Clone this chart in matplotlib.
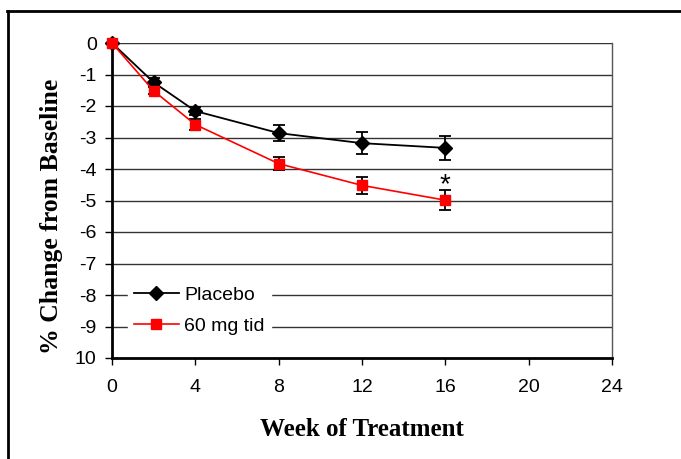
import matplotlib
matplotlib.use("Agg")
import matplotlib.pyplot as plt
from matplotlib.lines import Line2D

weeks = [0, 2, 4, 8, 12, 16]
placebo = [0, -1.25, -2.16, -2.86, -3.18, -3.33]
placebo_err = [0, 0.13, 0.14, 0.26, 0.34, 0.39]
drug = [0, -1.52, -2.59, -3.83, -4.52, -4.99]
drug_err = [0, 0.11, 0.18, 0.21, 0.27, 0.32]
xticks = [0, 4, 8, 12, 16, 20, 24]
yticks = [0, -1, -2, -3, -4, -5, -6, -7, -8, -9, -10]
ytick_labels = ["0", "-1", "-2", "-3", "-4", "-5", "-6", "-7", "-8", "-9", "10"]

W, H = 681, 459
fig = plt.figure(figsize=(W / 100, H / 100), dpi=100)

# outer frame
fig.add_artist(Line2D([7.5 / W, 7.5 / W], [0, 1 - 11 / H], color="black", lw=2, transform=fig.transFigure))
fig.add_artist(Line2D([7 / W, 1], [1 - 11 / H, 1 - 11 / H], color="black", lw=2, transform=fig.transFigure))

ax = fig.add_axes([112 / W, 1 - 358 / H, (612 - 112) / W, (358 - 43) / H])

for y in yticks[:-1]:
    ax.axhline(y, color="#333333", lw=1.0, zorder=0)

ax.errorbar(weeks, placebo, yerr=placebo_err, color="black", marker="D", ms=7,
            lw=1.3, capsize=4.5, elinewidth=1.3, capthick=1.3, zorder=3, clip_on=False)
ax.errorbar(weeks, drug, yerr=drug_err, color="red", marker="s", ms=7, mec="red",
            ecolor="black", lw=1.2, capsize=4.5, elinewidth=1.3, capthick=1.3,
            zorder=4, clip_on=False)

ax.text(16, -4.52, "*", ha="center", va="center", fontsize=20, family="Liberation Sans")

ax.set_xlim(0, 24)
ax.set_ylim(-10, 0)
ax.set_xticks(xticks)
ax.set_yticks(yticks)
ax.set_yticklabels(ytick_labels)
ax.tick_params(axis="both", direction="out", length=5, width=1, labelsize=14, pad=6)
for lab in ax.get_xticklabels() + ax.get_yticklabels():
    lab.set_family("Liberation Sans")
ax.tick_params(axis="x", pad=10)

ax.spines["left"].set_linewidth(2)
ax.spines["bottom"].set_linewidth(2)
ax.spines["top"].set_visible(False)
ax.spines["right"].set_color("#555555")
ax.spines["right"].set_linewidth(1)

ax.set_xlabel("Week of Treatment", fontsize=18, fontweight="bold", family="Liberation Serif", labelpad=16)
ax.set_ylabel("% Change from Baseline", fontsize=18.5, fontweight="bold", family="Liberation Serif")
ax.yaxis.set_label_coords(-0.098, 0.45)

handles = [
    Line2D([], [], color="black", marker="D", ms=7, lw=1.3),
    Line2D([], [], color="red", marker="s", ms=7, lw=1.2),
]
leg = ax.legend(handles, ["Placebo", "60 mg tid"], loc="upper left", bbox_to_anchor=(0.032, 0.247),
                frameon=True, fancybox=False, edgecolor="white", facecolor="white", framealpha=1,
                prop={"family": "Liberation Sans", "size": 14}, handlelength=2.3,
                labelspacing=0.7, borderpad=0.3, handletextpad=0.3, borderaxespad=0)

fig.savefig("out.png", dpi=100)
